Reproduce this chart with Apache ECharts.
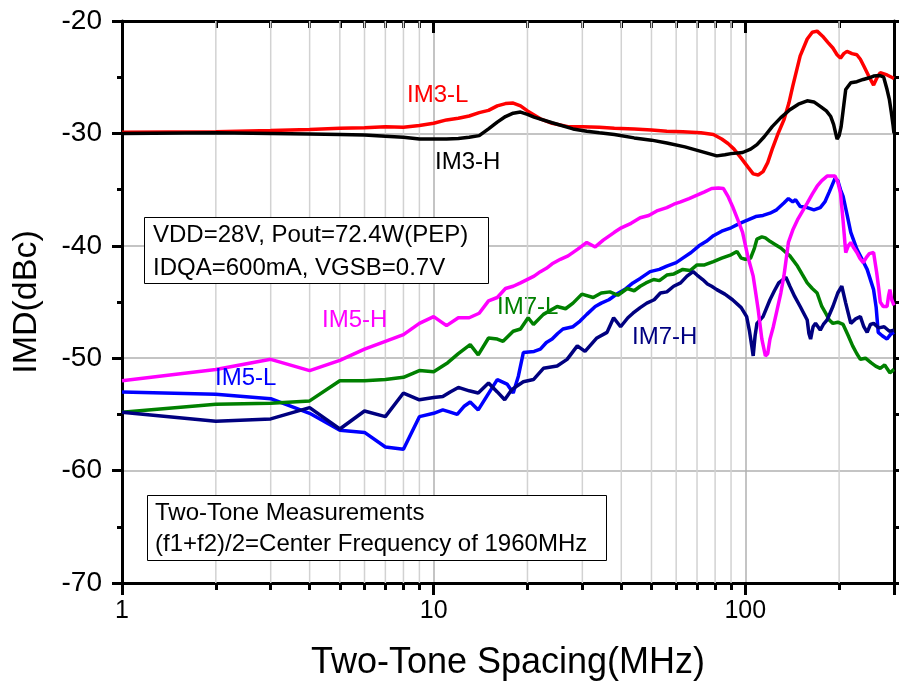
<!DOCTYPE html>
<html>
<head>
<meta charset="utf-8">
<script src="https://cdn.jsdelivr.net/npm/echarts@6/dist/echarts.min.js"></script>
<style>
  html, body { margin: 0; padding: 0; background: #fff; }
  #chart { width: 899px; height: 687px; }
</style>
</head>
<body>
<div id="chart"></div>
<script>
// [spacing MHz, dBc]
var im3L = [[1,-29.9],[2,-29.85],[3,-29.75],[4,-29.65],[5,-29.55],[6,-29.5],[7,-29.4],[8,-29.45],[9,-29.3],[10,-29.1],[11,-28.8],[12,-28.65],[13,-28.45],[14,-28.15],[15,-27.95],[16,-27.55],[17,-27.35],[18,-27.3],[19,-27.55],[20,-28.0],[22,-28.7],[24,-29.1],[27,-29.4],[30,-29.4],[34,-29.45],[38,-29.55],[44,-29.6],[50,-29.7],[56,-29.8],[63,-29.85],[72,-29.95],[79,-30.1],[84,-30.5],[88,-30.9],[92,-31.4],[97,-32.2],[102,-33.0],[106,-33.6],[110,-33.7],[114,-33.4],[118,-32.6],[122,-31.4],[127,-30.1],[133,-28.8],[138,-27.3],[142,-25.8],[150,-23.1],[158,-21.6],[164,-21.0],[170,-20.9],[177,-21.35],[184,-21.9],[191,-22.4],[197,-23.0],[202,-23.3],[207,-22.9],[212,-22.7],[220,-22.9],[228,-23.0],[234,-23.4],[240,-24.0],[250,-25.0],[258,-25.7],[265,-25.0],[271,-24.6],[285,-24.8],[297,-25.05],[300,-25.1]];

var im3H = [[1,-30.0],[2,-29.95],[3,-30.0],[4,-30.05],[5,-30.1],[6,-30.15],[7,-30.25],[8,-30.35],[9,-30.5],[10,-30.5],[11,-30.5],[12,-30.45],[13,-30.35],[14,-30.2],[15,-29.6],[16,-29.0],[17,-28.5],[18,-28.2],[19,-28.1],[20,-28.3],[21,-28.55],[24,-29.05],[28,-29.6],[31,-29.8],[34,-29.95],[38,-30.1],[44,-30.4],[50,-30.6],[56,-30.85],[64,-31.2],[72,-31.6],[81,-32.0],[86,-31.9],[90,-31.8],[98,-31.7],[104,-31.4],[109,-31.0],[115,-30.3],[122,-29.4],[130,-28.6],[139,-27.9],[148,-27.4],[158,-27.1],[166,-27.2],[174,-27.6],[182,-28.0],[188,-28.5],[192,-29.2],[195,-30.0],[197,-30.5],[200,-30.2],[203,-29.4],[207,-27.5],[210,-26.1],[218,-25.5],[228,-25.4],[239,-25.2],[250,-25.05],[258,-24.9],[270,-24.85],[278,-25.0],[285,-26.1],[290,-27.0],[294,-28.1],[298,-29.3],[300,-30.0]];

var im5H = [[1,-52.0],[2,-51.0],[3,-50.1],[4,-51.1],[5,-50.2],[6,-49.2],[7,-48.5],[8,-47.9],[9,-46.9],[10,-46.3],[11,-47.1],[12,-46.4],[13,-46.4],[14,-46.0],[15,-44.9],[16,-44.6],[17,-43.8],[18,-43.6],[19,-43.3],[21,-42.7],[22,-42.3],[23,-42.0],[24,-41.6],[25.5,-41.2],[27,-40.9],[29,-40.3],[31,-39.7],[33,-40.1],[35,-39.5],[38,-38.8],[40,-38.4],[43,-38.0],[46,-37.5],[49,-37.3],[52,-36.9],[56,-36.6],[59,-36.3],[62,-36.1],[66,-35.8],[70,-35.5],[74,-35.2],[78,-34.9],[82,-34.85],[85,-34.9],[88,-35.6],[91,-36.5],[95,-37.8],[98,-38.8],[102,-41.0],[106,-42.7],[108,-44.2],[110,-45.7],[113,-48.3],[116,-49.8],[118,-49.6],[120,-48.3],[123,-47.2],[126,-45.9],[130,-44.2],[133,-42.7],[137.5,-39.7],[142,-38.6],[147,-37.7],[152,-37.0],[158,-36.2],[164,-35.4],[170,-34.7],[176,-34.2],[183,-33.8],[190,-33.8],[194,-33.8],[198,-34.3],[202,-35.3],[206,-37.8],[210,-40.6],[214,-40.0],[218,-39.7],[223,-40.2],[228,-40.6],[233,-41.1],[239,-41.5],[245,-41.0],[250,-40.7],[258,-40.6],[264,-42.4],[268,-43.8],[271,-45.0],[277,-45.4],[285,-45.4],[288,-44.5],[291,-43.9],[295,-44.8],[300,-45.3]];

var im5L = [[1,-53.0],[2,-53.2],[3,-53.6],[4,-54.9],[5,-56.4],[6,-56.6],[7,-57.9],[8,-58.1],[9,-55.2],[10,-54.9],[10.7,-54.6],[11.3,-54.8],[11.9,-55.0],[12.5,-54.3],[13.1,-53.9],[13.9,-54.6],[14.8,-53.4],[16,-51.9],[17.2,-52.3],[18,-53.1],[18.7,-51.6],[19.4,-49.5],[21,-49.4],[22,-49.2],[23,-48.6],[24,-48.3],[25,-47.8],[26,-47.4],[28,-47.2],[29.5,-46.7],[31,-46.1],[33,-45.4],[34.5,-45.1],[36.5,-44.8],[38.7,-44.3],[41,-43.9],[43.6,-43.3],[46,-42.9],[49.5,-42.3],[53,-42.1],[56,-41.8],[60,-41.5],[63,-41.1],[67,-40.6],[71,-40.0],[75,-39.6],[79,-39.1],[84,-38.7],[90,-38.4],[96,-38.0],[102,-37.7],[108,-37.4],[114,-37.3],[120,-37.1],[126,-36.8],[133,-36.2],[137.5,-35.8],[142,-36.1],[145,-35.9],[150,-36.5],[158,-36.6],[166,-36.8],[174,-36.6],[180,-36.1],[186,-35.2],[194,-34.0],[198,-34.2],[202,-35.0],[206,-35.6],[212,-37.2],[218,-38.8],[228,-40.3],[237,-41.2],[246,-42.1],[258,-43.9],[263,-45.5],[267,-47.7],[275,-48.0],[285,-48.3],[292,-47.9],[300,-47.7]];

var im7L = [[1,-54.8],[2,-54.1],[3,-54.0],[4,-53.8],[5,-52.0],[6,-52.0],[7,-51.9],[8,-51.7],[9,-51.1],[10,-51.2],[11.1,-50.4],[12,-49.6],[13.1,-48.8],[13.9,-49.7],[15,-48.2],[16,-48.3],[16.7,-48.5],[18,-47.6],[19,-47.4],[20.1,-46.4],[20.9,-47.0],[22.5,-46.1],[24.9,-45.4],[26.5,-45.6],[28,-45.1],[29.9,-44.3],[32.5,-44.6],[34.5,-44.2],[36.8,-44.1],[39,-44.4],[41.8,-43.8],[44,-44.0],[46,-43.6],[48,-43.3],[50.8,-43.0],[53,-43.1],[56,-42.6],[59,-42.5],[63,-42.1],[66.5,-42.2],[70,-41.7],[74,-41.7],[79,-41.4],[84,-41.1],[90,-40.8],[94,-40.5],[97,-41.1],[100,-41.2],[104,-41.1],[107,-40.2],[109,-39.4],[113,-39.2],[116,-39.3],[120,-39.6],[125,-39.9],[130,-40.2],[135,-40.6],[139,-40.9],[147,-41.8],[152,-42.5],[158,-43.3],[164,-43.8],[170,-44.2],[176,-45.4],[182,-46.1],[186,-46.6],[191,-46.9],[198,-46.8],[206,-47.0],[214,-48.0],[221,-48.9],[228,-49.6],[234,-50.1],[243,-50.0],[253,-50.4],[262,-50.7],[271,-50.9],[280,-50.6],[291,-51.3],[300,-51.0]];

var im7H = [[1,-54.8],[2,-55.6],[3,-55.4],[4,-54.4],[5,-56.3],[6,-54.7],[7,-55.2],[8,-53.1],[9,-53.7],[10,-53.5],[10.7,-53.4],[11.3,-53.0],[12,-52.6],[13,-52.9],[13.9,-53.1],[15,-52.2],[16,-53.0],[16.9,-53.7],[17.8,-52.8],[19.4,-52.1],[20.9,-51.9],[22.5,-50.9],[24.9,-50.7],[26.8,-50.1],[28.9,-48.9],[30.6,-49.4],[33.4,-48.2],[36,-47.7],[37.8,-46.4],[39.8,-47.2],[42,-46.4],[43.6,-46.0],[46,-45.5],[48.3,-45.1],[51,-44.8],[53.4,-44.2],[56,-44.1],[58.9,-43.6],[62,-43.3],[65,-42.7],[68,-42.3],[70,-42.6],[73,-43.0],[75.6,-43.4],[78,-43.6],[81,-43.9],[86,-44.3],[91,-44.8],[97,-45.5],[101,-46.3],[103,-47.5],[105,-49.0],[106,-49.8],[107.5,-48.0],[109,-46.9],[114,-46.3],[120,-44.8],[124,-44.0],[128,-43.3],[135,-42.8],[139,-43.6],[144,-44.5],[150,-45.4],[158,-46.6],[160,-47.8],[162,-48.3],[165,-47.2],[168,-46.9],[174,-47.5],[178,-47.0],[183,-46.6],[191,-45.4],[198,-44.2],[204,-43.6],[210,-45.1],[218,-46.9],[226,-46.5],[234,-46.3],[240,-47.2],[246,-47.7],[252,-47.0],[258,-46.9],[268,-47.3],[279,-47.2],[290,-47.6],[300,-47.5]];

var xMajor = [1, 10, 100];
var xMinor = [2, 3, 4, 5, 6, 7, 8, 9, 20, 30, 40, 50, 60, 70, 80, 90, 200];

var FONT = '"Liberation Sans", Arial, sans-serif';

var chart = echarts.init(document.getElementById('chart'));

function lineSeries(name, data, color) {
	return {
		name: name,
		type: 'line',
		data: data,
		showSymbol: false,
		symbol: 'none',
		lineStyle: { color: color, width: 3.5 },
		itemStyle: { color: color },
		z: 3
	};
}

// log x axis; kind: 'main' (labels, name, grid), 'frame' (top line), 'minor' (minor ticks only)
function xLogAxis(pos, kind) {
	var ax = {
		type: 'log',
		logBase: 10,
		min: 1,
		max: 300,
		position: pos,
		axisLine: { show: kind !== 'minor', onZero: false, lineStyle: { color: '#000', width: 3 } },
		axisTick: { show: true, inside: pos === 'top', length: kind === 'minor' ? 7 : 12, lineStyle: { color: '#000', width: 3 } },
		axisLabel: { show: false },
		splitLine: { show: false },
		minorSplitLine: { show: false }
	};
	if (kind === 'minor') ax.axisTick.customValues = xMinor;
	if (kind === 'main') {
		ax.name = 'Two-Tone Spacing(MHz)';
		ax.nameLocation = 'middle';
		ax.nameGap = 62;
		ax.nameTextStyle = { fontFamily: FONT, fontSize: 36, color: '#000' };
		ax.axisLabel = {
			show: true, margin: 16, fontFamily: FONT, fontSize: 25, color: '#000',
			formatter: function (v) {
				var r = Math.round(v);
				return xMajor.indexOf(r) >= 0 && Math.abs(v - r) < 1e-6 ? String(r) : '';
			}
		};
		ax.splitLine = { show: true, lineStyle: { color: '#b0b0b0', width: 1.5 } };
	}
	return ax;
}

var option = {
	animation: false,
	backgroundColor: '#fff',
	grid: { left: 122, right: 5, top: 21, bottom: 104, containLabel: false },
	xAxis: [
		xLogAxis('bottom', 'main'),
		xLogAxis('top', 'frame'),
		xLogAxis('bottom', 'minor'),
		xLogAxis('top', 'minor')
	],
	yAxis: [{
		type: 'value',
		min: -70,
		max: -20,
		interval: 10,
		position: 'left',
		name: 'IMD(dBc)',
		nameLocation: 'middle',
		nameGap: 78,
		nameTextStyle: { fontFamily: FONT, fontSize: 34, color: '#000' },
		axisLine: { show: true, onZero: false, lineStyle: { color: '#000', width: 3 } },
		axisTick: { show: true, inside: false, length: 10, lineStyle: { color: '#000', width: 3 } },
		minorTick: { show: true, splitNumber: 2, length: 5, lineStyle: { color: '#000', width: 3 } },
		axisLabel: { show: true, margin: 20, fontFamily: FONT, fontSize: 28, color: '#000' },
		splitLine: { show: true, lineStyle: { color: '#b0b0b0', width: 1.5 } }
	}, {
		type: 'value',
		min: -70,
		max: -20,
		interval: 10,
		position: 'right',
		axisLine: { show: true, onZero: false, lineStyle: { color: '#000', width: 3 } },
		axisTick: { show: true, inside: false, length: 8, lineStyle: { color: '#000', width: 3 } },
		minorTick: { show: true, splitNumber: 2, length: 5, lineStyle: { color: '#000', width: 3 } },
		axisLabel: { show: false },
		splitLine: { show: false }
	}],
	series: [
		{
			// light minor grid lines of the log axis
			type: 'custom',
			xAxisIndex: 0,
			yAxisIndex: 0,
			data: xMinor.map(function (v) { return [v, -70]; }),
			silent: true,
			z: 1,
			renderItem: function (params, api) {
				var b = api.coord([api.value(0), -70]);
				var t = api.coord([api.value(0), -20]);
				return { type: 'line', shape: { x1: b[0], y1: t[1], x2: b[0], y2: b[1] }, style: { stroke: '#d2d2d2', lineWidth: 1.5 } };
			}
		},
		lineSeries('IM3-L', im3L, '#ff0000'),
		lineSeries('IM3-H', im3H, '#000000'),
		lineSeries('IM5-L', im5L, '#0000ff'),
		lineSeries('IM7-L', im7L, '#008000'),
		lineSeries('IM7-H', im7H, '#000080'),
		lineSeries('IM5-H', im5H, '#ff00ff')
	],
	graphic: [
		{ type: 'text', x: 407, y: 95, z: 50, style: { text: 'IM3-L', font: '24px ' + FONT, fill: '#ff0000', verticalAlign: 'middle' } },
		{ type: 'text', x: 435, y: 162, z: 50, style: { text: 'IM3-H', font: '24px ' + FONT, fill: '#000000', verticalAlign: 'middle' } },
		{ type: 'text', x: 322, y: 320, z: 50, style: { text: 'IM5-H', font: '24px ' + FONT, fill: '#ff00ff', verticalAlign: 'middle' } },
		{ type: 'text', x: 215, y: 378, z: 50, style: { text: 'IM5-L', font: '24px ' + FONT, fill: '#0000ff', verticalAlign: 'middle' } },
		{ type: 'text', x: 497, y: 307, z: 1, style: { text: 'IM7-L', font: '24px ' + FONT, fill: '#008000', verticalAlign: 'middle' } },
		{ type: 'text', x: 632, y: 337, z: 50, style: { text: 'IM7-H', font: '24px ' + FONT, fill: '#000080', verticalAlign: 'middle' } },
		{ type: 'rect', shape: { x: 144.5, y: 217.5, width: 344, height: 66 }, z: 50, style: { fill: '#fff', stroke: '#000', lineWidth: 1 } },
		{ type: 'text', x: 153, y: 235, z: 51, style: { text: 'VDD=28V, Pout=72.4W(PEP)', font: '24px ' + FONT, fill: '#000', verticalAlign: 'middle' } },
		{ type: 'text', x: 153, y: 268, z: 51, style: { text: 'IDQA=600mA, VGSB=0.7V', font: '24px ' + FONT, fill: '#000', verticalAlign: 'middle' } },
		{ type: 'rect', shape: { x: 147.5, y: 495.5, width: 459, height: 65 }, z: 50, style: { fill: '#fff', stroke: '#000', lineWidth: 1 } },
		{ type: 'text', x: 155, y: 513, z: 51, style: { text: 'Two-Tone Measurements', font: '24px ' + FONT, fill: '#000', verticalAlign: 'middle' } },
		{ type: 'text', x: 155, y: 544, z: 51, style: { text: '(f1+f2)/2=Center Frequency of 1960MHz', font: '24px ' + FONT, fill: '#000', verticalAlign: 'middle' } }
	]
};

chart.setOption(option);
</script>
</body>
</html>
